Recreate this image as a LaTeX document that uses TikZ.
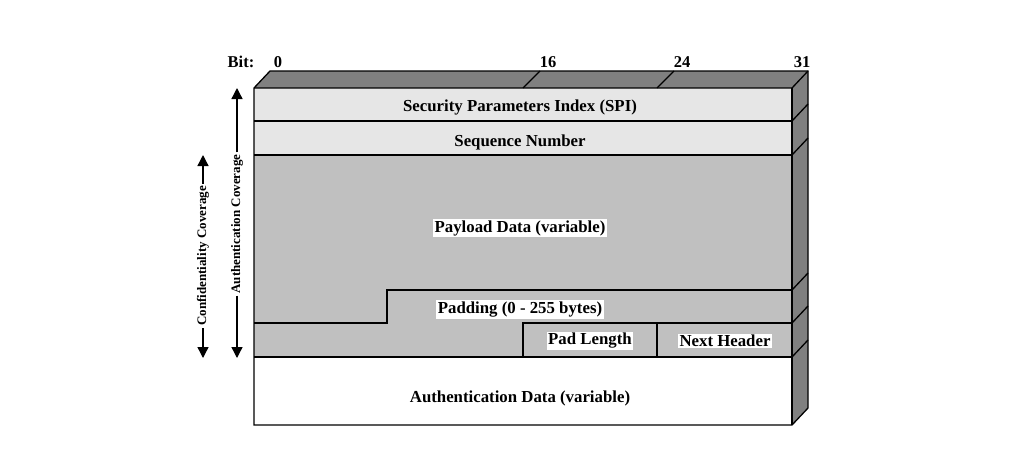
\documentclass[tikz,border=0pt]{standalone}
\usepackage{fontspec}
\setmainfont{Liberation Serif}
\usetikzlibrary{arrows.meta}
\definecolor{lightg}{HTML}{E6E6E6}
\definecolor{midg}{HTML}{C0C0C0}
\definecolor{darkg}{HTML}{808080}
\begin{document}
\begin{tikzpicture}[x=1pt,y=-1pt,
  edge/.style={line width=1.3pt, line join=miter},
  lbl/.style={font=\fontsize{16.8}{18}\selectfont\bfseries, inner sep=1.5pt},
  wlbl/.style={lbl, fill=white},
  bitlbl/.style={font=\fontsize{16.5}{18}\selectfont\bfseries, inner sep=0pt, anchor=base},
  covlbl/.style={font=\fontsize{13}{15}\selectfont\bfseries, rotate=90, inner sep=2pt},
  cov/.style={line width=1.3pt, -{Triangle[width=11pt,length=11pt]}}]
\useasboundingbox (0,0) rectangle (1024,451);
% faces
\fill[darkg] (254,88) -- (270,71) -- (808,71) -- (792,88) -- cycle;
\fill[darkg] (792,88) -- (808,71) -- (808,408) -- (792,425) -- cycle;
% row fills
\fill[lightg] (254,88) rectangle (792,155);
\fill[midg] (254,155) rectangle (792,357);
\fill[white] (254,357) rectangle (792,425);
% outlines
\draw[edge] (254,88) -- (270,71) -- (808,71) -- (808,408) -- (792,425) -- (254,425) -- cycle;
\draw[edge] (254,88) -- (792,88) -- (808,71);
\draw[edge] (792,88) -- (792,425);
\foreach \y in {121,155,290,323,357}{
  \draw[edge] (792,\y) -- (808,\y-17);
}
\draw[edge] (254,121) -- (792,121);
\draw[edge] (254,155) -- (792,155);
\draw[edge] (792,290) -- (387,290) -- (387,323) -- (254,323);
\draw[edge] (523,357) -- (523,323) -- (792,323);
\draw[edge] (657,323) -- (657,357);
\draw[edge] (254,357) -- (792,357);
\draw[edge] (523,88) -- (540,71);
\draw[edge] (657,88) -- (674,71);
% bit labels
\node[bitlbl] (bit) at (241,67) {Bit:};
\node[bitlbl] (b0) at (278,67) {0};
\node[bitlbl] (b16) at (548,67) {16};
\node[bitlbl] (b24) at (682,67) {24};
\node[bitlbl] (b31) at (802,67) {31};
% field labels
\node[lbl] (spi) at (520,107.5) {Security Parameters Index (SPI)};
\node[lbl] (seq) at (520,142.5) {Sequence Number};
\node[wlbl] (pay) at (520,228) {Payload Data (variable)};
\node[wlbl] (pad) at (520,309.5) {Padding (0 - 255 bytes)};
\node[wlbl] (padlen) at (590,341) {Pad Length};
\node[wlbl] (nh) at (725,341) {Next Header};
\node[lbl] (auth) at (520,398) {Authentication Data (variable)};
% coverage arrows
\coordinate (atop) at (237,88);
\coordinate (abot) at (237,358);
\coordinate (ctop) at (203,155);
\coordinate (cbot) at (203,358);
\node[covlbl] (alab) at (237,224) {Authentication Coverage};
\node[covlbl] (clab) at (203,256) {Confidentiality Coverage};
\draw[cov] (alab.east) -- (atop);
\draw[cov] (alab.west) -- (abot);
\draw[cov] (clab.east) -- (ctop);
\draw[cov] (clab.west) -- (cbot);
\end{tikzpicture}
\end{document}
